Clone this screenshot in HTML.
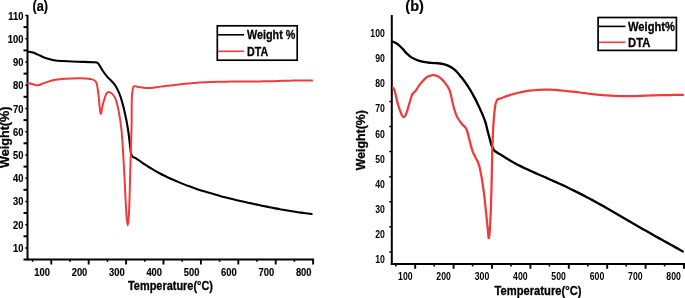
<!DOCTYPE html>
<html><head><meta charset="utf-8"><style>
html,body{margin:0;padding:0;background:#fff;width:685px;height:298px;overflow:hidden}
svg{display:block;will-change:transform;font-family:"Liberation Sans",sans-serif;font-weight:bold}
.tl{font-size:10.4px;stroke:#000;stroke-width:0.15px}
.tlb{font-size:10px}
.lg{font-size:13px;stroke:#000;stroke-width:0.3px}
.pt{font-size:14.5px;stroke:#000;stroke-width:0.2px}
.at{font-size:12.6px;stroke:#000;stroke-width:0.3px}
.at2{font-size:13px;stroke:#000;stroke-width:0.3px}
</style></head><body>
<svg width="685" height="298" viewBox="0 0 685 298">
<line x1="27.5" y1="14.8" x2="27.5" y2="260.3" stroke="#000" stroke-width="2"/>
<line x1="23.5" y1="259.6" x2="314.1" y2="259.6" stroke="#000" stroke-width="2"/>
<line x1="25.3" y1="15.5" x2="27" y2="15.5" stroke="#000" stroke-width="1.5"/>
<text transform="translate(23.4,19.5) scale(0.9,1)" class="tl" text-anchor="end">110</text>
<line x1="23.5" y1="27.1" x2="27" y2="27.1" stroke="#000" stroke-width="2"/>
<line x1="25.3" y1="38.7" x2="27" y2="38.7" stroke="#000" stroke-width="1.5"/>
<text transform="translate(23.4,42.7) scale(0.9,1)" class="tl" text-anchor="end">100</text>
<line x1="23.5" y1="50.4" x2="27" y2="50.4" stroke="#000" stroke-width="2"/>
<line x1="25.3" y1="62.0" x2="27" y2="62.0" stroke="#000" stroke-width="1.5"/>
<text transform="translate(23.4,66.0) scale(0.9,1)" class="tl" text-anchor="end">90</text>
<line x1="23.5" y1="73.6" x2="27" y2="73.6" stroke="#000" stroke-width="2"/>
<line x1="25.3" y1="85.2" x2="27" y2="85.2" stroke="#000" stroke-width="1.5"/>
<text transform="translate(23.4,89.2) scale(0.9,1)" class="tl" text-anchor="end">80</text>
<line x1="23.5" y1="96.8" x2="27" y2="96.8" stroke="#000" stroke-width="2"/>
<line x1="25.3" y1="108.5" x2="27" y2="108.5" stroke="#000" stroke-width="1.5"/>
<text transform="translate(23.4,112.5) scale(0.9,1)" class="tl" text-anchor="end">70</text>
<line x1="23.5" y1="120.1" x2="27" y2="120.1" stroke="#000" stroke-width="2"/>
<line x1="25.3" y1="131.7" x2="27" y2="131.7" stroke="#000" stroke-width="1.5"/>
<text transform="translate(23.4,135.7) scale(0.9,1)" class="tl" text-anchor="end">60</text>
<line x1="23.5" y1="143.3" x2="27" y2="143.3" stroke="#000" stroke-width="2"/>
<line x1="25.3" y1="154.9" x2="27" y2="154.9" stroke="#000" stroke-width="1.5"/>
<text transform="translate(23.4,158.9) scale(0.9,1)" class="tl" text-anchor="end">50</text>
<line x1="23.5" y1="166.6" x2="27" y2="166.6" stroke="#000" stroke-width="2"/>
<line x1="25.3" y1="178.2" x2="27" y2="178.2" stroke="#000" stroke-width="1.5"/>
<text transform="translate(23.4,182.2) scale(0.9,1)" class="tl" text-anchor="end">40</text>
<line x1="23.5" y1="189.8" x2="27" y2="189.8" stroke="#000" stroke-width="2"/>
<line x1="25.3" y1="201.4" x2="27" y2="201.4" stroke="#000" stroke-width="1.5"/>
<text transform="translate(23.4,205.4) scale(0.9,1)" class="tl" text-anchor="end">30</text>
<line x1="23.5" y1="213.0" x2="27" y2="213.0" stroke="#000" stroke-width="2"/>
<line x1="25.3" y1="224.7" x2="27" y2="224.7" stroke="#000" stroke-width="1.5"/>
<text transform="translate(23.4,228.7) scale(0.9,1)" class="tl" text-anchor="end">20</text>
<line x1="23.5" y1="236.3" x2="27" y2="236.3" stroke="#000" stroke-width="2"/>
<line x1="25.3" y1="247.9" x2="27" y2="247.9" stroke="#000" stroke-width="1.5"/>
<text transform="translate(23.4,251.9) scale(0.9,1)" class="tl" text-anchor="end">10</text>
<line x1="51.3" y1="259" x2="51.3" y2="264.5" stroke="#000" stroke-width="1.9"/>
<line x1="32.6" y1="259" x2="32.6" y2="261.8" stroke="#000" stroke-width="1.6"/>
<text transform="translate(42.1,275.5) scale(0.9,1)" class="tl" text-anchor="middle">100</text>
<line x1="88.7" y1="259" x2="88.7" y2="264.5" stroke="#000" stroke-width="1.9"/>
<line x1="70.0" y1="259" x2="70.0" y2="261.8" stroke="#000" stroke-width="1.6"/>
<text transform="translate(79.5,275.5) scale(0.9,1)" class="tl" text-anchor="middle">200</text>
<line x1="126.1" y1="259" x2="126.1" y2="264.5" stroke="#000" stroke-width="1.9"/>
<line x1="107.4" y1="259" x2="107.4" y2="261.8" stroke="#000" stroke-width="1.6"/>
<text transform="translate(116.8,275.5) scale(0.9,1)" class="tl" text-anchor="middle">300</text>
<line x1="163.5" y1="259" x2="163.5" y2="264.5" stroke="#000" stroke-width="1.9"/>
<line x1="144.8" y1="259" x2="144.8" y2="261.8" stroke="#000" stroke-width="1.6"/>
<text transform="translate(154.2,275.5) scale(0.9,1)" class="tl" text-anchor="middle">400</text>
<line x1="200.9" y1="259" x2="200.9" y2="264.5" stroke="#000" stroke-width="1.9"/>
<line x1="182.2" y1="259" x2="182.2" y2="261.8" stroke="#000" stroke-width="1.6"/>
<text transform="translate(191.6,275.5) scale(0.9,1)" class="tl" text-anchor="middle">500</text>
<line x1="238.3" y1="259" x2="238.3" y2="264.5" stroke="#000" stroke-width="1.9"/>
<line x1="219.6" y1="259" x2="219.6" y2="261.8" stroke="#000" stroke-width="1.6"/>
<text transform="translate(228.9,275.5) scale(0.9,1)" class="tl" text-anchor="middle">600</text>
<line x1="275.7" y1="259" x2="275.7" y2="264.5" stroke="#000" stroke-width="1.9"/>
<line x1="257.0" y1="259" x2="257.0" y2="261.8" stroke="#000" stroke-width="1.6"/>
<text transform="translate(266.3,275.5) scale(0.9,1)" class="tl" text-anchor="middle">700</text>
<line x1="313.1" y1="259" x2="313.1" y2="264.5" stroke="#000" stroke-width="1.9"/>
<line x1="294.4" y1="259" x2="294.4" y2="261.8" stroke="#000" stroke-width="1.6"/>
<text transform="translate(303.7,275.5) scale(0.9,1)" class="tl" text-anchor="middle">800</text>
<line x1="391.8" y1="15" x2="391.8" y2="265" stroke="#000" stroke-width="2"/>
<line x1="390.9" y1="264.1" x2="686" y2="264.1" stroke="#000" stroke-width="2"/>
<text transform="translate(384.8,37.1) scale(0.87,1)" class="tlb" text-anchor="end">100</text>
<text transform="translate(384.8,62.2) scale(0.87,1)" class="tlb" text-anchor="end">90</text>
<text transform="translate(384.8,87.3) scale(0.87,1)" class="tlb" text-anchor="end">80</text>
<text transform="translate(384.8,112.4) scale(0.87,1)" class="tlb" text-anchor="end">70</text>
<text transform="translate(384.8,137.5) scale(0.87,1)" class="tlb" text-anchor="end">60</text>
<text transform="translate(384.8,162.6) scale(0.87,1)" class="tlb" text-anchor="end">50</text>
<text transform="translate(384.8,187.8) scale(0.87,1)" class="tlb" text-anchor="end">40</text>
<text transform="translate(384.8,212.9) scale(0.87,1)" class="tlb" text-anchor="end">30</text>
<text transform="translate(384.8,238.0) scale(0.87,1)" class="tlb" text-anchor="end">20</text>
<text transform="translate(384.8,263.1) scale(0.87,1)" class="tlb" text-anchor="end">10</text>
<line x1="389.3" y1="101.6" x2="391" y2="101.6" stroke="#000" stroke-width="1.5"/>
<line x1="389.3" y1="126.5" x2="391" y2="126.5" stroke="#000" stroke-width="1.5"/>
<line x1="389.3" y1="151.6" x2="391" y2="151.6" stroke="#000" stroke-width="1.5"/>
<line x1="389.3" y1="176.8" x2="391" y2="176.8" stroke="#000" stroke-width="1.5"/>
<line x1="389.3" y1="201.8" x2="391" y2="201.8" stroke="#000" stroke-width="1.5"/>
<line x1="389.3" y1="226.8" x2="391" y2="226.8" stroke="#000" stroke-width="1.5"/>
<line x1="389.3" y1="251.9" x2="391" y2="251.9" stroke="#000" stroke-width="1.5"/>
<line x1="415.2" y1="264" x2="415.2" y2="268.8" stroke="#000" stroke-width="1.9"/>
<line x1="395.8" y1="264" x2="395.8" y2="266.5" stroke="#000" stroke-width="1.6"/>
<text transform="translate(405.3,279.6) scale(0.87,1)" class="tlb" text-anchor="middle">100</text>
<line x1="453.6" y1="264" x2="453.6" y2="268.8" stroke="#000" stroke-width="1.9"/>
<line x1="434.2" y1="264" x2="434.2" y2="266.5" stroke="#000" stroke-width="1.6"/>
<text transform="translate(443.6,279.6) scale(0.87,1)" class="tlb" text-anchor="middle">200</text>
<line x1="492.0" y1="264" x2="492.0" y2="268.8" stroke="#000" stroke-width="1.9"/>
<line x1="472.6" y1="264" x2="472.6" y2="266.5" stroke="#000" stroke-width="1.6"/>
<text transform="translate(482.0,279.6) scale(0.87,1)" class="tlb" text-anchor="middle">300</text>
<line x1="530.4" y1="264" x2="530.4" y2="268.8" stroke="#000" stroke-width="1.9"/>
<line x1="511.0" y1="264" x2="511.0" y2="266.5" stroke="#000" stroke-width="1.6"/>
<text transform="translate(520.3,279.6) scale(0.87,1)" class="tlb" text-anchor="middle">400</text>
<line x1="568.8" y1="264" x2="568.8" y2="268.8" stroke="#000" stroke-width="1.9"/>
<line x1="549.4" y1="264" x2="549.4" y2="266.5" stroke="#000" stroke-width="1.6"/>
<text transform="translate(558.6,279.6) scale(0.87,1)" class="tlb" text-anchor="middle">500</text>
<line x1="607.2" y1="264" x2="607.2" y2="268.8" stroke="#000" stroke-width="1.9"/>
<line x1="587.8" y1="264" x2="587.8" y2="266.5" stroke="#000" stroke-width="1.6"/>
<text transform="translate(597.0,279.6) scale(0.87,1)" class="tlb" text-anchor="middle">600</text>
<line x1="645.6" y1="264" x2="645.6" y2="268.8" stroke="#000" stroke-width="1.9"/>
<line x1="626.2" y1="264" x2="626.2" y2="266.5" stroke="#000" stroke-width="1.6"/>
<text transform="translate(635.3,279.6) scale(0.87,1)" class="tlb" text-anchor="middle">700</text>
<line x1="684.0" y1="264" x2="684.0" y2="268.8" stroke="#000" stroke-width="1.9"/>
<line x1="664.6" y1="264" x2="664.6" y2="266.5" stroke="#000" stroke-width="1.6"/>
<text transform="translate(673.6,279.6) scale(0.87,1)" class="tlb" text-anchor="middle">800</text>
<path d="M27.5 51.5 C28.4 51.7 31.2 52.1 33.0 52.6 C34.8 53.1 36.3 53.9 38.0 54.6 C39.7 55.3 41.3 56.3 43.0 57.0 C44.7 57.7 46.2 58.2 48.0 58.7 C49.8 59.2 51.7 59.8 54.0 60.2 C56.3 60.6 59.0 60.8 62.0 61.0 C65.0 61.2 68.3 61.4 72.0 61.5 C75.7 61.6 80.4 61.8 84.0 61.9 C87.6 62.0 91.2 62.1 93.5 62.3 C95.8 62.5 96.4 61.8 98.0 63.2 C99.6 64.7 101.3 68.7 102.9 71.0 C104.5 73.3 106.2 75.5 107.6 77.1 C108.9 78.7 109.8 79.2 111.0 80.4 C112.2 81.6 113.4 82.8 114.5 84.3 C115.6 85.8 116.6 87.5 117.6 89.6 C118.6 91.7 119.6 93.8 120.6 96.8 C121.6 99.8 122.6 103.7 123.6 107.5 C124.5 111.3 125.5 116.0 126.3 119.8 C127.0 123.5 127.5 126.3 128.1 130.0 C128.7 133.7 129.1 137.9 129.6 141.8 C130.1 145.7 130.5 150.8 131.0 153.3 C131.5 155.8 131.9 155.9 132.7 156.7 C133.5 157.5 134.4 157.3 136.0 158.3 C137.6 159.3 140.0 161.2 142.0 162.6 C144.0 164.0 146.0 165.2 148.0 166.5 C150.0 167.8 152.0 168.9 154.0 170.1 C156.0 171.3 158.0 172.4 160.0 173.5 C162.0 174.6 164.0 175.5 166.0 176.5 C168.0 177.5 170.0 178.4 172.0 179.3 C174.0 180.2 176.0 181.1 178.0 181.9 C180.0 182.8 182.0 183.6 184.0 184.4 C186.0 185.2 188.0 185.9 190.0 186.6 C192.0 187.3 194.0 188.0 196.0 188.7 C198.0 189.4 200.0 190.1 202.0 190.7 C204.0 191.3 206.0 191.9 208.0 192.5 C210.0 193.1 212.0 193.6 214.0 194.2 C216.0 194.8 218.0 195.3 220.0 195.9 C222.0 196.5 224.0 197.0 226.0 197.5 C228.0 198.0 230.0 198.5 232.0 199.0 C234.0 199.5 236.0 199.9 238.0 200.4 C240.0 200.9 242.0 201.4 244.0 201.8 C246.0 202.2 248.0 202.7 250.0 203.1 C252.0 203.5 254.0 204.0 256.0 204.4 C258.0 204.8 260.0 205.3 262.0 205.7 C264.0 206.1 266.0 206.5 268.0 206.9 C270.0 207.3 272.0 207.7 274.0 208.1 C276.0 208.5 278.0 208.8 280.0 209.2 C282.0 209.5 284.0 209.9 286.0 210.2 C288.0 210.5 290.0 210.9 292.0 211.2 C294.0 211.5 296.0 211.9 298.0 212.2 C300.0 212.5 302.0 212.7 304.0 213.0 C306.0 213.3 308.6 213.6 310.0 213.8 C311.4 214.0 312.1 214.1 312.5 214.1" fill="none" stroke="#000" stroke-width="2.1" stroke-linejoin="round"/>
<path d="M27.5 82.7 C28.4 83.0 31.2 83.9 33.0 84.3 C34.8 84.7 36.1 85.6 38.1 85.3 C40.1 85.0 42.4 83.5 45.2 82.6 C48.1 81.7 51.9 80.3 55.2 79.7 C58.6 79.1 61.3 78.9 65.3 78.7 C69.3 78.5 75.3 78.3 79.4 78.3 C83.5 78.3 87.2 78.3 90.0 78.9 C92.8 79.5 94.5 79.5 95.9 81.8 C97.3 84.0 97.4 87.1 98.2 92.4 C99.0 97.7 99.8 111.5 100.6 113.5 C101.4 115.5 101.9 107.4 102.9 104.1 C103.9 100.8 105.3 95.5 106.5 93.5 C107.7 91.5 108.6 91.8 110.0 92.4 C111.4 93.0 113.3 94.4 114.7 97.1 C116.1 99.8 117.1 103.3 118.2 108.8 C119.3 114.3 120.5 119.8 121.5 130.0 C122.5 140.2 123.4 158.3 124.1 170.0 C124.8 181.7 125.2 192.0 125.6 200.0 C126.0 208.0 126.3 213.8 126.7 218.0 C127.1 222.2 127.4 225.3 127.7 225.3 C128.0 225.3 128.4 222.2 128.7 218.0 C129.0 213.8 129.2 208.0 129.5 200.0 C129.8 192.0 130.0 181.7 130.3 170.0 C130.6 158.3 131.2 141.7 131.5 130.0 C131.8 118.3 131.6 106.6 131.8 100.0 C132.0 93.4 132.2 92.7 132.6 90.4 C132.9 88.1 133.0 86.9 133.9 86.3 C134.8 85.7 136.6 86.7 138.2 86.9 C139.8 87.1 141.6 87.5 143.3 87.7 C145.0 87.9 146.7 88.1 148.4 88.1 C150.1 88.1 151.9 87.9 153.5 87.7 C155.1 87.5 156.2 87.2 158.0 86.9 C159.8 86.7 162.0 86.4 164.0 86.2 C166.0 86.0 168.0 85.7 170.0 85.5 C172.0 85.3 174.0 85.0 176.0 84.8 C178.0 84.6 180.0 84.3 182.0 84.1 C184.0 83.9 186.0 83.7 188.0 83.5 C190.0 83.3 192.0 83.2 194.0 83.0 C196.0 82.8 198.0 82.7 200.0 82.6 C202.0 82.5 204.0 82.4 206.0 82.3 C208.0 82.2 210.0 82.1 212.0 82.0 C214.0 81.9 216.0 81.8 218.0 81.8 C220.0 81.8 222.0 81.7 224.0 81.7 C226.0 81.7 228.0 81.6 230.0 81.6 C232.0 81.6 234.0 81.6 236.0 81.6 C238.0 81.6 240.0 81.5 242.0 81.5 C244.0 81.5 246.0 81.5 248.0 81.5 C250.0 81.5 252.0 81.4 254.0 81.4 C256.0 81.4 258.0 81.4 260.0 81.4 C262.0 81.4 264.0 81.3 266.0 81.3 C268.0 81.3 270.0 81.2 272.0 81.2 C274.0 81.2 276.0 81.1 278.0 81.0 C280.0 80.9 282.0 80.8 284.0 80.8 C286.0 80.8 288.0 80.8 290.0 80.7 C292.0 80.7 294.0 80.5 296.0 80.5 C298.0 80.5 300.0 80.5 302.0 80.5 C304.0 80.5 306.2 80.5 308.0 80.5 C309.8 80.5 312.1 80.6 312.9 80.6" fill="none" stroke="#f03b3c" stroke-width="2" stroke-linejoin="round"/>
<path d="M391.8 41.3 C391.9 41.3 391.6 41.2 392.3 41.5 C393.0 41.8 394.7 42.3 395.9 43.0 C397.1 43.7 398.2 44.6 399.4 45.6 C400.6 46.6 401.7 47.8 402.9 49.1 C404.1 50.4 405.2 52.0 406.4 53.2 C407.6 54.4 408.8 55.5 410.0 56.4 C411.2 57.3 411.9 57.8 413.5 58.5 C415.1 59.2 417.4 60.2 419.3 60.8 C421.2 61.4 423.2 61.9 425.2 62.2 C427.2 62.6 429.3 62.7 431.1 62.9 C432.9 63.1 434.5 63.1 436.0 63.2 C437.5 63.3 438.8 63.4 440.0 63.5 C441.2 63.6 441.6 63.7 443.1 64.1 C444.6 64.5 447.1 65.1 449.1 66.1 C451.1 67.1 453.1 68.3 455.1 70.1 C457.1 71.9 459.2 74.6 461.2 77.1 C463.2 79.6 465.2 82.2 467.2 85.2 C469.2 88.2 471.8 92.6 473.3 95.3 C474.9 98.0 475.2 98.9 476.5 101.5 C477.8 104.1 479.4 107.5 480.9 110.9 C482.4 114.3 484.2 118.5 485.3 121.8 C486.4 125.1 486.8 127.8 487.5 130.5 C488.2 133.2 488.9 135.7 489.6 138.2 C490.3 140.7 491.0 144.0 491.5 145.5 C492.0 147.0 492.0 146.3 492.5 147.2 C493.0 148.0 493.1 149.4 494.3 150.6 C495.5 151.8 498.3 153.3 499.6 154.1 C500.9 154.9 500.6 154.6 502.0 155.5 C503.4 156.4 506.0 158.1 508.0 159.3 C510.0 160.5 512.0 161.6 514.0 162.7 C516.0 163.8 518.0 164.9 520.0 165.9 C522.0 166.9 524.0 167.9 526.0 168.8 C528.0 169.7 530.0 170.6 532.0 171.5 C534.0 172.4 536.0 173.3 538.0 174.2 C540.0 175.1 542.0 175.9 544.0 176.8 C546.0 177.7 548.0 178.6 550.0 179.5 C552.0 180.4 554.0 181.2 556.0 182.1 C558.0 183.0 560.0 184.0 562.0 184.9 C564.0 185.8 566.0 186.8 568.0 187.7 C570.0 188.6 572.0 189.6 574.0 190.6 C576.0 191.6 578.0 192.6 580.0 193.6 C582.0 194.6 584.0 195.6 586.0 196.7 C588.0 197.8 590.0 198.8 592.0 199.9 C594.0 201.0 596.0 202.1 598.0 203.2 C600.0 204.3 602.0 205.4 604.0 206.5 C606.0 207.6 608.0 208.8 610.0 210.0 C612.0 211.2 614.0 212.2 616.0 213.4 C618.0 214.6 620.0 215.7 622.0 216.9 C624.0 218.1 626.0 219.2 628.0 220.4 C630.0 221.6 632.0 222.7 634.0 223.9 C636.0 225.1 638.0 226.2 640.0 227.4 C642.0 228.6 644.0 229.7 646.0 230.8 C648.0 231.9 650.0 233.1 652.0 234.2 C654.0 235.3 656.0 236.5 658.0 237.6 C660.0 238.7 662.0 239.9 664.0 241.0 C666.0 242.1 668.0 243.2 670.0 244.3 C672.0 245.4 674.0 246.5 676.0 247.6 C678.0 248.7 680.7 250.3 682.0 251.0 C683.3 251.7 683.3 251.8 683.6 251.9" fill="none" stroke="#000" stroke-width="2.35" stroke-linejoin="round"/>
<path d="M392.2 87.2 C392.3 87.2 392.3 86.9 392.7 87.4 C393.1 87.9 393.9 88.7 394.4 90.0 C394.9 91.3 395.3 93.4 395.8 95.4 C396.3 97.4 396.8 99.9 397.4 102.1 C398.0 104.3 398.7 106.8 399.4 108.8 C400.1 110.8 400.7 112.7 401.4 114.1 C402.1 115.5 402.7 116.9 403.4 117.1 C404.1 117.3 404.7 116.7 405.4 115.5 C406.1 114.3 406.7 112.1 407.4 110.1 C408.1 108.1 408.7 105.6 409.4 103.4 C410.1 101.2 410.8 98.4 411.4 96.7 C412.0 95.0 412.3 94.2 412.8 93.4 C413.3 92.6 413.9 92.9 414.6 92.1 C415.3 91.3 416.2 89.9 417.1 88.6 C418.0 87.3 418.9 85.6 420.1 84.1 C421.3 82.6 422.8 80.8 424.1 79.6 C425.4 78.3 426.7 77.3 428.1 76.6 C429.5 75.9 431.2 75.3 432.7 75.2 C434.2 75.1 435.8 75.4 437.2 76.0 C438.6 76.6 439.9 77.4 441.2 78.6 C442.5 79.8 443.8 81.3 445.2 83.1 C446.6 84.9 448.3 87.3 449.3 89.5 C450.3 91.7 450.5 93.5 451.2 96.2 C451.9 99.0 452.6 103.0 453.4 106.0 C454.2 109.0 455.1 112.0 456.0 114.3 C456.9 116.6 457.9 118.3 459.0 120.0 C460.1 121.7 461.4 123.2 462.6 124.7 C463.8 126.2 465.3 126.8 466.4 129.0 C467.4 131.2 467.8 134.0 468.9 137.8 C469.9 141.6 471.4 148.0 472.7 151.6 C474.0 155.2 475.3 156.5 476.5 159.2 C477.7 161.9 478.6 162.6 479.8 168.0 C481.0 173.4 482.5 181.6 483.8 191.8 C485.1 202.0 487.0 221.7 487.8 229.4 C488.6 237.1 488.3 237.6 488.6 238.0 C488.9 238.4 489.3 237.5 489.7 232.1 C490.1 226.7 490.6 216.5 491.0 205.3 C491.4 194.1 491.8 175.3 492.0 165.0 C492.2 154.7 492.2 150.8 492.5 143.6 C492.8 136.4 493.2 128.0 493.6 121.8 C494.0 115.6 494.7 109.7 495.1 106.5 C495.5 103.3 495.6 103.7 496.0 102.5 C496.4 101.3 496.9 100.0 497.6 99.4 C498.3 98.8 498.8 99.1 500.0 98.7 C501.2 98.3 503.3 97.4 505.0 96.8 C506.7 96.2 508.3 95.6 510.0 95.1 C511.7 94.6 513.3 94.0 515.0 93.6 C516.7 93.1 518.3 92.8 520.0 92.4 C521.7 92.0 523.3 91.7 525.0 91.4 C526.7 91.1 528.3 90.9 530.0 90.7 C531.7 90.5 533.3 90.2 535.0 90.1 C536.7 89.9 538.3 89.9 540.0 89.8 C541.7 89.7 543.3 89.7 545.0 89.7 C546.7 89.7 548.3 89.7 550.0 89.7 C551.7 89.7 553.3 89.8 555.0 89.9 C556.7 90.0 558.3 90.2 560.0 90.3 C561.7 90.4 563.3 90.6 565.0 90.8 C566.7 91.0 568.3 91.1 570.0 91.3 C571.7 91.5 573.3 91.7 575.0 91.9 C576.7 92.1 578.3 92.3 580.0 92.5 C581.7 92.7 583.3 93.0 585.0 93.2 C586.7 93.4 588.3 93.6 590.0 93.8 C591.7 94.0 593.3 94.1 595.0 94.3 C596.7 94.5 598.3 94.6 600.0 94.8 C601.7 95.0 603.3 95.2 605.0 95.3 C606.7 95.4 608.3 95.5 610.0 95.6 C611.7 95.7 613.3 95.8 615.0 95.9 C616.7 96.0 618.3 96.0 620.0 96.0 C621.7 96.0 623.3 96.1 625.0 96.1 C626.7 96.1 628.3 96.1 630.0 96.1 C631.7 96.1 633.3 96.0 635.0 96.0 C636.7 96.0 638.3 96.0 640.0 95.9 C641.7 95.9 643.3 95.8 645.0 95.7 C646.7 95.6 648.3 95.6 650.0 95.5 C651.7 95.4 653.3 95.3 655.0 95.3 C656.7 95.2 658.3 95.2 660.0 95.2 C661.7 95.2 663.3 95.1 665.0 95.1 C666.7 95.1 668.3 95.0 670.0 95.0 C671.7 95.0 673.3 94.9 675.0 94.9 C676.7 94.9 678.5 94.9 680.0 94.9 C681.5 94.9 683.2 94.9 683.9 94.9" fill="none" stroke="#f03b3c" stroke-width="2.25" stroke-linejoin="round"/>
<rect x="217.3" y="25.8" width="79.9" height="34.4" fill="none" stroke="#000" stroke-width="1.7"/>
<line x1="217.9" y1="34.8" x2="244" y2="34.8" stroke="#000" stroke-width="1.6"/>
<line x1="217.9" y1="51.3" x2="244" y2="51.3" stroke="#f03b3c" stroke-width="1.6"/>
<text x="247" y="39.3" class="lg" textLength="48.3" lengthAdjust="spacingAndGlyphs">Weight %</text>
<text x="247" y="55.8" class="lg" textLength="21.2" lengthAdjust="spacingAndGlyphs">DTA</text>
<rect x="598.1" y="17.5" width="78.3" height="32.9" fill="none" stroke="#000" stroke-width="1.7"/>
<line x1="598.9" y1="26.4" x2="625.5" y2="26.4" stroke="#000" stroke-width="1.6"/>
<line x1="598.9" y1="42.3" x2="625.5" y2="42.3" stroke="#f03b3c" stroke-width="1.6"/>
<text x="628" y="30.7" class="lg" textLength="46.9" lengthAdjust="spacingAndGlyphs">Weight%</text>
<text x="628" y="46.7" class="lg" textLength="22.3" lengthAdjust="spacingAndGlyphs">DTA</text>
<text transform="translate(32.5,11.2) scale(0.88,1)" class="pt">(a)</text>
<text transform="translate(405.3,11.4) scale(1.0,1)" class="pt">(b)</text>
<text x="128" y="289.7" class="at" textLength="85" lengthAdjust="spacingAndGlyphs">Temperature(°C)</text>
<text x="494.5" y="295" class="at" textLength="87" lengthAdjust="spacingAndGlyphs">Temperature(°C)</text>
<text transform="translate(8.8,168) rotate(-90)" class="at2" textLength="61.5" lengthAdjust="spacingAndGlyphs">Weight(%)</text>
<text transform="translate(365.3,170.2) rotate(-90)" class="at2" textLength="60" lengthAdjust="spacingAndGlyphs">Weight(%)</text>
</svg>
</body></html>
